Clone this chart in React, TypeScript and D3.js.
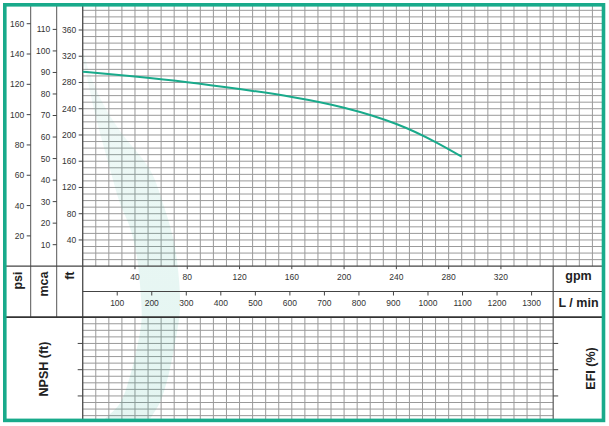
import React from "react";
import * as d3 from "d3";

// pump curve: flow (gpm) vs head (ft)
const flowGpm = [0, 40, 80, 120, 160, 200, 240, 270, 290];
const headFt = [296.5, 289, 280.5, 270, 258, 241.6, 216.8, 189.2, 167];

// axis tick labels
const psiTicks = [20, 40, 60, 80, 100, 120, 140, 160];
const mcaTicks = [10, 20, 30, 40, 50, 60, 70, 80, 90, 100, 110];
const ftTicks = [40, 80, 120, 160, 200, 240, 280, 320, 360];
const gpmTicks = [40, 80, 120, 160, 200, 240, 280, 320];
const lpmTicks = [100, 200, 300, 400, 500, 600, 700, 800, 900, 1000, 1100, 1200, 1300];
const npshTicks = [4, 8, 12];

// faint watermark band, outline in (gpm, ft) units
const bandOutline: [number, number][] = [
  [-2, 330], [0.5, 312], [10, 228], [21, 147], [28.5, 96], [36, 60], [41, 20],
  [44, -32], [45, -82], [42.3, -117], [36, -169], [28.5, -209], [14.5, -239], [9, -262],
  [48, -262], [50, -239], [59, -208], [65.3, -169], [70.6, -117], [74.4, -67],
  [73, -6], [69, 44], [61.4, 96], [51.5, 147], [29, 205], [15, 250], [5, 296], [1, 322],
];

const TEAL = "#19aa8b";
const GRID = "#9a9a9a";
const FONT = "'Liberation Sans', Arial, sans-serif";

export default function App() {
  const width = 609;
  const height = 426;

  const left = 82.7;
  const right = 553.2;
  const innerRight = 602;
  const yBase = 266.2;
  const yMid = 291.5;
  const yLow = 317.2;
  const yBottom = 419;

  const x = d3.scaleLinear().domain([0, 360]).range([left, right]);
  const xL = d3.scaleLinear().domain([0, 360 * 3.785]).range([left, right]);
  const yFt = d3.scaleLinear().domain([0, 360]).range([yBase, 30]);
  const yPsi = yFt.copy().domain([0, 360 / 2.31]);
  const yMca = yFt.copy().domain([0, 360 / 3.281]);
  const yNpsh = d3.scaleLinear().domain([16, 0]).range([yLow, yLow + 105]);

  const vGridTop = d3.range(10, 400, 10).filter((v) => x(v) < innerRight - 2);
  const vGridBottom = d3.range(10, 360, 10);
  const hGridTop = d3.range(10, 400, 10).filter((v) => yFt(v) > 8);
  const hGridBottom = d3.range(1, 16).filter((v) => yNpsh(v) < yBottom);

  const curve = d3
    .line<number>()
    .x((_, i) => x(flowGpm[i]))
    .y((d) => yFt(d))
    .curve(d3.curveNatural)(headFt);

  const band = d3
    .line<[number, number]>()
    .x((d) => x(d[0]))
    .y((d) => yFt(d[1]))
    .curve(d3.curveCatmullRomClosed.alpha(0.5))(bandOutline);

  const tickText = { fontSize: 8.5, fill: "#333", fontFamily: FONT };
  const titleText = { fontSize: 12.5, fontWeight: 700, fill: "#222", fontFamily: FONT };

  return (
    <svg
      width={width}
      height={height}
      style={{ position: "absolute", left: 0, top: 0, background: "#fff" }}
    >
      <defs>
        <clipPath id="bandClip">
          <rect x={left} y={6} width={innerRight - left} height={yBottom - 6} />
        </clipPath>
        <linearGradient id="bandFade" x1="0" y1="0" x2="0" y2="1">
          <stop offset="0" stopColor={TEAL} stopOpacity={0.05} />
          <stop offset="0.5" stopColor={TEAL} stopOpacity={0.1} />
          <stop offset="1" stopColor={TEAL} stopOpacity={0.12} />
        </linearGradient>
      </defs>

      {/* grid, upper part */}
      {vGridTop.map((v) => (
        <line key={"vt" + v} x1={x(v)} x2={x(v)} y1={6} y2={yBase} stroke={GRID} strokeWidth={1} />
      ))}
      {hGridTop.map((v) => (
        <line key={"ht" + v} x1={left} x2={innerRight} y1={yFt(v)} y2={yFt(v)} stroke={GRID} strokeWidth={1} />
      ))}

      {/* grid, NPSH part */}
      {vGridBottom.map((v) => (
        <line key={"vb" + v} x1={x(v)} x2={x(v)} y1={yLow} y2={yBottom} stroke={GRID} strokeWidth={1} />
      ))}
      {hGridBottom.map((v) => (
        <line key={"hb" + v} x1={left} x2={right} y1={yNpsh(v)} y2={yNpsh(v)} stroke={GRID} strokeWidth={1} />
      ))}

      <path d={band ?? ""} fill="url(#bandFade)" clipPath="url(#bandClip)" />

      {/* frame lines */}
      <line x1={30.7} x2={30.7} y1={6} y2={yLow} stroke="#555" strokeWidth={1} />
      <line x1={56.7} x2={56.7} y1={6} y2={yLow} stroke="#555" strokeWidth={1} />
      <line x1={left} x2={left} y1={6} y2={yBottom} stroke="#555" strokeWidth={1.4} />
      <line x1={right} x2={right} y1={yBase} y2={yBottom} stroke="#666" strokeWidth={1.3} />
      <line x1={6} x2={innerRight} y1={yBase} y2={yBase} stroke="#444" strokeWidth={1.2} />
      <line x1={left} x2={innerRight} y1={yMid} y2={yMid} stroke="#444" strokeWidth={1.1} />
      <line x1={6} x2={innerRight} y1={yLow} y2={yLow} stroke="#333" strokeWidth={1.8} />

      {/* psi */}
      {psiTicks.map((t) => (
        <g key={"psi" + t} transform={`translate(30.7,${yPsi(t)})`}>
          <line x1={-4} x2={0} stroke="#444" />
          <text x={-6.5} dy="0.35em" textAnchor="end" {...tickText}>{t}</text>
        </g>
      ))}
      {/* mca */}
      {mcaTicks.map((t) => (
        <g key={"mca" + t} transform={`translate(56.7,${yMca(t)})`}>
          <line x1={-4} x2={0} stroke="#444" />
          <text x={-6.5} dy="0.35em" textAnchor="end" {...tickText}>{t}</text>
        </g>
      ))}
      {/* ft */}
      {ftTicks.map((t) => (
        <g key={"ft" + t} transform={`translate(${left},${yFt(t)})`}>
          <line x1={-4} x2={0} stroke="#444" />
          <text x={-6.5} dy="0.35em" textAnchor="end" {...tickText}>{t}</text>
        </g>
      ))}
      {/* gpm */}
      {gpmTicks.map((t) => (
        <g key={"gpm" + t} transform={`translate(${x(t)},${yBase})`}>
          <line y1={0} y2={3} stroke="#444" />
          <text y={14} textAnchor="middle" {...tickText}>{t}</text>
        </g>
      ))}
      {/* L/min */}
      {lpmTicks.map((t) => (
        <g key={"lpm" + t} transform={`translate(${xL(t)},${yMid})`}>
          <line y1={0} y2={4} stroke="#444" />
          <text y={14.5} textAnchor="middle" {...tickText}>{t}</text>
        </g>
      ))}
      {/* NPSH / EFI ticks */}
      {npshTicks.map((t) => (
        <g key={"np" + t}>
          <line x1={left - 5} x2={left} y1={yNpsh(t)} y2={yNpsh(t)} stroke="#444" />
          <line x1={right} x2={right + 5} y1={yNpsh(t)} y2={yNpsh(t)} stroke="#444" />
        </g>
      ))}

      {/* titles */}
      <text transform="translate(22,271.5) rotate(-90)" textAnchor="end" {...titleText}>psi</text>
      <text transform="translate(47.5,271.5) rotate(-90)" textAnchor="end" {...titleText}>mca</text>
      <text transform="translate(74,271.5) rotate(-90)" textAnchor="end" {...titleText}>ft</text>
      <text x={578.5} y={280} textAnchor="middle" {...titleText}>gpm</text>
      <text x={578.5} y={306.5} textAnchor="middle" {...titleText}>L / min</text>
      <text transform="translate(48,369) rotate(-90)" textAnchor="middle" {...titleText}>NPSH (ft)</text>
      <text transform="translate(595,368.5) rotate(-90)" textAnchor="middle" {...titleText}>EFI (%)</text>

      {/* pump curve */}
      <path d={curve ?? ""} fill="none" stroke={TEAL} strokeWidth={2} />

      {/* outer frame */}
      <rect x={4.8} y={4.8} width={598.7} height={415.6} fill="none" stroke={TEAL} strokeWidth={3.6} />
    </svg>
  );
}
